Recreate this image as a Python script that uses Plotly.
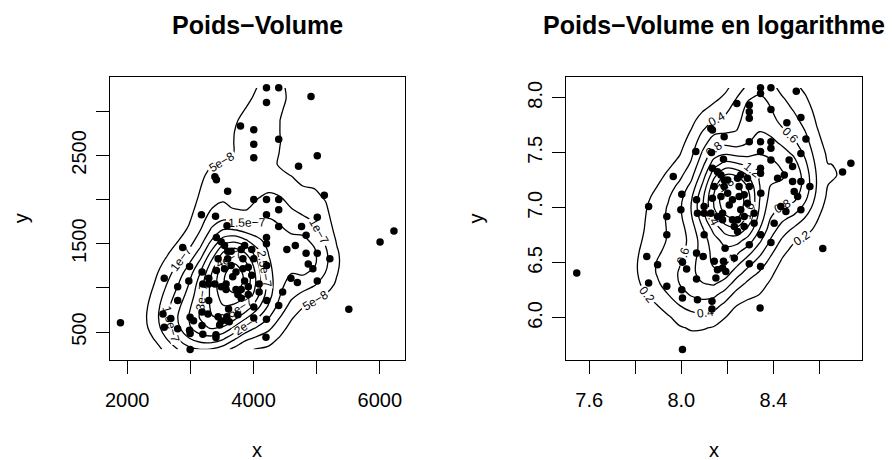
import numpy as np
import plotly.graph_objects as go

# ---- data: log(poids), log(volume) ----
log_poids = [
    7.546, 8.005, 8.342, 8.614, 8.736, 8.700, 8.499, 8.519, 8.344, 8.344,
    8.389, 8.241, 8.295, 8.295, 8.295, 8.389, 8.458, 8.541, 8.128, 8.135,
    8.186, 8.063, 8.131, 8.183, 8.295, 8.344, 8.389, 8.389, 8.344, 8.389,
    8.468, 8.483, 8.519, 7.965, 8.135, 8.157, 8.172, 8.186, 8.344, 8.344,
    8.418, 8.447, 8.483, 8.519, 8.558, 8.002, 8.066, 7.858, 7.937, 7.998,
    8.099, 8.186, 8.201, 8.244, 8.287, 8.251, 8.295, 8.201, 8.135, 8.172,
    8.179, 8.128, 8.222, 8.251, 8.273, 8.287, 8.208, 8.345, 8.490, 8.505,
    8.432, 8.454, 8.519, 8.070, 8.099, 8.179, 8.222, 8.244, 8.273, 8.316,
    8.099, 8.244, 8.345, 8.403, 7.937, 8.190, 8.295, 8.389, 7.850, 7.897,
    8.005, 8.066, 8.095, 8.143, 8.183, 8.230, 8.023, 8.157, 8.179, 8.193,
    8.150, 8.295, 8.344, 8.066, 7.858, 7.937, 8.002, 8.005, 8.070, 8.133,
    8.133, 8.258, 8.143, 8.157, 8.258, 8.230, 8.273, 8.316,
]
log_volume = [
    6.408, 5.713, 6.091, 6.631, 7.405, 7.326, 8.060, 7.822, 8.091, 8.039,
    8.091, 7.949, 7.934, 7.873, 7.813, 7.894, 7.773, 7.625, 7.722, 7.707,
    7.647, 7.511, 7.502, 7.441, 7.601, 7.601, 7.601, 7.541, 7.511, 7.435,
    7.435, 7.375, 7.495, 7.284, 7.360, 7.329, 7.299, 7.254, 7.360, 7.314,
    7.269, 7.299, 7.239, 7.239, 7.193, 7.124, 7.073, 7.012, 6.921, 6.982,
    7.012, 7.193, 7.254, 7.269, 7.269, 7.193, 7.193, 7.133, 7.088, 7.103,
    6.952, 6.952, 7.073, 7.103, 7.118, 7.042, 7.027, 7.133, 7.148, 7.103,
    7.012, 6.967, 6.982, 6.952, 6.952, 6.891, 6.891, 6.891, 6.921, 6.861,
    6.755, 6.785, 6.755, 6.861, 6.755, 6.634, 6.665, 6.686, 6.559, 6.483,
    6.505, 6.589, 6.559, 6.514, 6.514, 6.544, 6.444, 6.438, 6.453, 6.423,
    6.363, 6.492, 6.468, 6.353, 6.317, 6.287, 6.257, 6.181, 6.166, 6.151,
    6.082, 7.299, 7.193, 6.921, 6.982, 6.831, 6.831, 6.952,
]

# tick values / labels
x1_ticks = [2000, 3000, 4000, 5000, 6000]
x1_text = ["2000", "", "4000", "", "6000"]
y1_ticks = [500, 1000, 1500, 2000, 2500, 3000]
y1_text = ["500", "", "1500", "", "2500", ""]
x2_ticks = [7.6, 7.8, 8.0, 8.2, 8.4, 8.6]
x2_text = ["7.6", "", "8.0", "", "8.4", ""]
y2_ticks = [6.0, 6.5, 7.0, 7.5, 8.0]
y2_text = ["6.0", "6.5", "7.0", "7.5", "8.0"]

lx = np.array(log_poids)
ly = np.array(log_volume)
poids = np.exp(lx)
volume = np.exp(ly)


def bw_nrd(v):
    q1, q3 = np.percentile(v, [25, 75])
    h = (q3 - q1) / 1.34
    return 4 * 1.06 * min(np.std(v, ddof=1), h) * len(v) ** (-0.2)


def kde2d(x, y, n=25):
    hx = bw_nrd(x) / 4
    hy = bw_nrd(y) / 4
    gx = np.linspace(x.min(), x.max(), n)
    gy = np.linspace(y.min(), y.max(), n)
    ax = (gx[:, None] - x[None, :]) / hx
    ay = (gy[:, None] - y[None, :]) / hy
    phi = lambda u: np.exp(-0.5 * u ** 2) / np.sqrt(2 * np.pi)
    z = phi(ax) @ phi(ay).T / (len(x) * hx * hy)
    return gx, gy, z.T


def rng(v):
    d = v.max() - v.min()
    return [v.min() - 0.04 * d, v.max() + 0.04 * d]


FONT = "Liberation Sans, Arial, Helvetica, sans-serif"
fig = go.Figure()

g1x, g1y, z1 = kde2d(poids, volume)
g2x, g2y, z2 = kde2d(lx, ly)

black = [[0, "black"], [1, "black"]]
fig.add_trace(go.Contour(
    x=g1x, y=g1y, z=z1, xaxis="x", yaxis="y",
    colorscale=black, showscale=False, hoverinfo="skip",
    line=dict(color="black", width=1.3),
    contours=dict(coloring="lines", showlabels=True, start=5e-8, end=1e-6, size=5e-8,
                  labelformat=".2~e", labelfont=dict(size=12, color="black", family=FONT)),
))
fig.add_trace(go.Scatter(
    x=poids, y=volume, mode="markers", xaxis="x", yaxis="y",
    marker=dict(color="black", size=7.5), showlegend=False,
))
fig.add_trace(go.Contour(
    x=g2x, y=g2y, z=z2, xaxis="x2", yaxis="y2",
    colorscale=black, showscale=False, hoverinfo="skip",
    line=dict(color="black", width=1.3),
    contours=dict(coloring="lines", showlabels=True, start=0.2, end=4, size=0.2,
                  labelformat=".1~f", labelfont=dict(size=12, color="black", family=FONT)),
))
fig.add_trace(go.Scatter(
    x=lx, y=ly, mode="markers", xaxis="x2", yaxis="y2",
    marker=dict(color="black", size=7.5), showlegend=False,
))

ax_common = dict(showline=True, linecolor="black", linewidth=1, mirror=True,
                 ticks="outside", ticklen=13, tickcolor="black", tickwidth=1,
                 showgrid=False, zeroline=False, tickfont=dict(size=20, color="black", family=FONT))

ydom = [1 - 360 / 460, 1 - 77.3 / 460]
fig.update_layout(
    width=892, height=460, margin=dict(l=0, r=0, t=0, b=0),
    paper_bgcolor="white", plot_bgcolor="white", showlegend=False,
    xaxis=dict(domain=[106 / 892, 402.7 / 892], range=rng(poids), anchor="y",
               tickvals=x1_ticks, ticktext=x1_text, ticklabelstandoff=9, **ax_common),
    yaxis=dict(domain=ydom, range=rng(volume), anchor="x",
               tickvals=y1_ticks, ticktext=y1_text, tickangle=-90, ticklabelstandoff=2, **ax_common),
    xaxis2=dict(domain=[564.3 / 892, 861.7 / 892], range=rng(lx), anchor="y2",
                tickvals=x2_ticks, ticktext=x2_text, ticklabelstandoff=9, **ax_common),
    yaxis2=dict(domain=ydom, range=rng(ly), anchor="x2",
                tickvals=y2_ticks, ticktext=y2_text, tickangle=-90, ticklabelstandoff=2, **ax_common),
)

ann = []
for cx, title in [((106 + 402.7) / 2, "Poids−Volume"), ((564.3 + 861.7) / 2, "Poids−Volume en logarithme")]:
    ann.append(dict(x=cx / 892, y=1 - 25 / 460, xref="paper", yref="paper", text="<b>%s</b>" % title,
                    showarrow=False, xanchor="center", yanchor="middle",
                    font=dict(size=25, color="black", family=FONT)))
    ann.append(dict(x=cx / 892, y=1 - 450 / 460, xref="paper", yref="paper", text="x",
                    showarrow=False, xanchor="center", yanchor="middle",
                    font=dict(size=20, color="black", family=FONT)))
for cx in [16.7, 474]:
    ann.append(dict(x=cx / 892, y=1 - 218.7 / 460, xref="paper", yref="paper", text="y",
                    showarrow=False, xanchor="center", yanchor="middle", textangle=-90,
                    font=dict(size=20, color="black", family=FONT)))
fig.update_layout(annotations=ann)

fig.write_html("out.html")
